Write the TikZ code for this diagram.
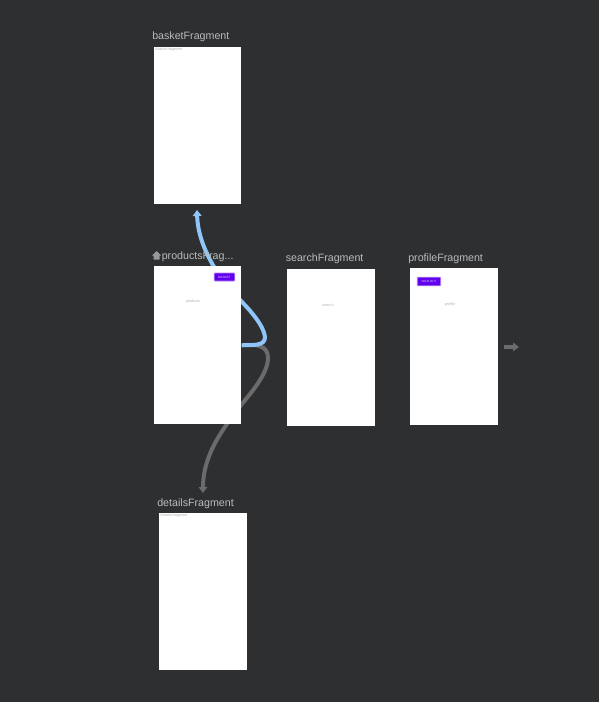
\documentclass[tikz,border=0pt]{standalone}
\usepackage{fontspec}
\setmainfont{Liberation Sans}
\usepackage{xcolor}
\usetikzlibrary{arrows.meta, backgrounds}
\definecolor{navbg}{RGB}{45, 47, 49}
\definecolor{navtext}{RGB}{187, 187, 187}
\definecolor{navblue}{RGB}{144, 197, 250}
\definecolor{navgray}{RGB}{107, 107, 107}
\definecolor{navbutton}{RGB}{98, 0, 238}
\tikzset{
    screen/.style={fill=white, inner sep=0pt, anchor=north west, minimum width=65.4pt, minimum height=117.9pt},
    widescreen/.style={screen, minimum width=66pt},
    title/.style={anchor=base west, inner sep=0pt, text=navtext, font=\fontsize{8}{9}\selectfont},
    tinytext/.style={inner sep=0pt, text=black!30, font=\fontsize{2.8}{3}\selectfont},
    button/.style={fill=navbutton, draw=navbutton!50, line width=0.6pt, rounded corners=0.6pt, inner sep=0pt, text=white!80!navbutton, font=\fontsize{2.3}{3}\selectfont},
    action/.style={line width=3pt, draw=navgray, -{Triangle[length=4.5pt, width=6.5pt]}},
    selected/.style={action, draw=navblue}
}

\begin{document}
\begin{tikzpicture}[x=0.75pt, y=-0.75pt]
    \useasboundingbox (0, 0) rectangle (599, 702);

    % Screens
    \node[screen] (basket) at (154, 47) {};
    \node[screen, minimum height=118.5pt] (products) at (154, 266) {};
    \node[widescreen] (search) at (287, 269) {};
    \node[widescreen] (profile) at (410, 268) {};
    \node[widescreen] (details) at (159, 513) {};
    \coordinate (basketEnd) at (197, 210);
    \coordinate (detailsEnd) at (203, 493);
    \coordinate (profileStart) at (504, 347);
    \coordinate (profileEnd) at (519, 347);

    % Actions
    \begin{scope}[on background layer]
        \fill[navbg] (0, 0) rectangle (599, 702);
        \draw[action] (products.east) .. controls (256, 344) and (268, 345) .. (268, 358)
            .. controls (268, 373) and (252, 392) .. (241, 405)
            .. controls (222, 430) and (203, 455) .. (detailsEnd);
        \draw[selected] (products.east) .. controls (254, 345) and (265, 346) .. (265, 337)
            .. controls (264, 326) and (250, 310) .. (241, 301)
            .. controls (224, 285) and (198, 250) .. (basketEnd);
        \draw[action] (profileStart) -- (profileEnd);
    \end{scope}

    % Titles
    \node[title] (basketTitle) at (152, 39.5) {basketFragment};
    \node[title] (productsTitle) at (161.5, 259) {productsFrag...};
    \node[title] (searchTitle) at (285.5, 261) {searchFragment};
    \node[title] (profileTitle) at (408, 261) {profileFragment};
    \node[title] (detailsTitle) at (157, 506) {detailsFragment};
    \fill[navtext!75!navbg] (152, 255.5) -- (156.5, 251) -- (161, 255.5) -- (159.5, 255.5) -- (159.5, 259.5)
        -- (153.5, 259.5) -- (153.5, 255.5) -- cycle;

    % Screen contents
    \node[tinytext, anchor=north west] (basketText) at (155, 47.5) {Basket fragment};
    \node[tinytext] (productsText) at (193, 302) {products};
    \node[tinytext] (searchText) at (328, 305) {search};
    \node[tinytext] (profileText) at (450, 305) {profile};
    \node[tinytext, anchor=north west] (detailsText) at (160, 514) {Details fragment};
    \node[button, minimum width=15.5pt, minimum height=6pt] (basketButton) at (224.5, 277) {BASKET};
    \node[button, minimum width=17.5pt, minimum height=6.5pt] (signOut) at (429, 281.5) {SIGN OUT};
\end{tikzpicture}
\end{document}
